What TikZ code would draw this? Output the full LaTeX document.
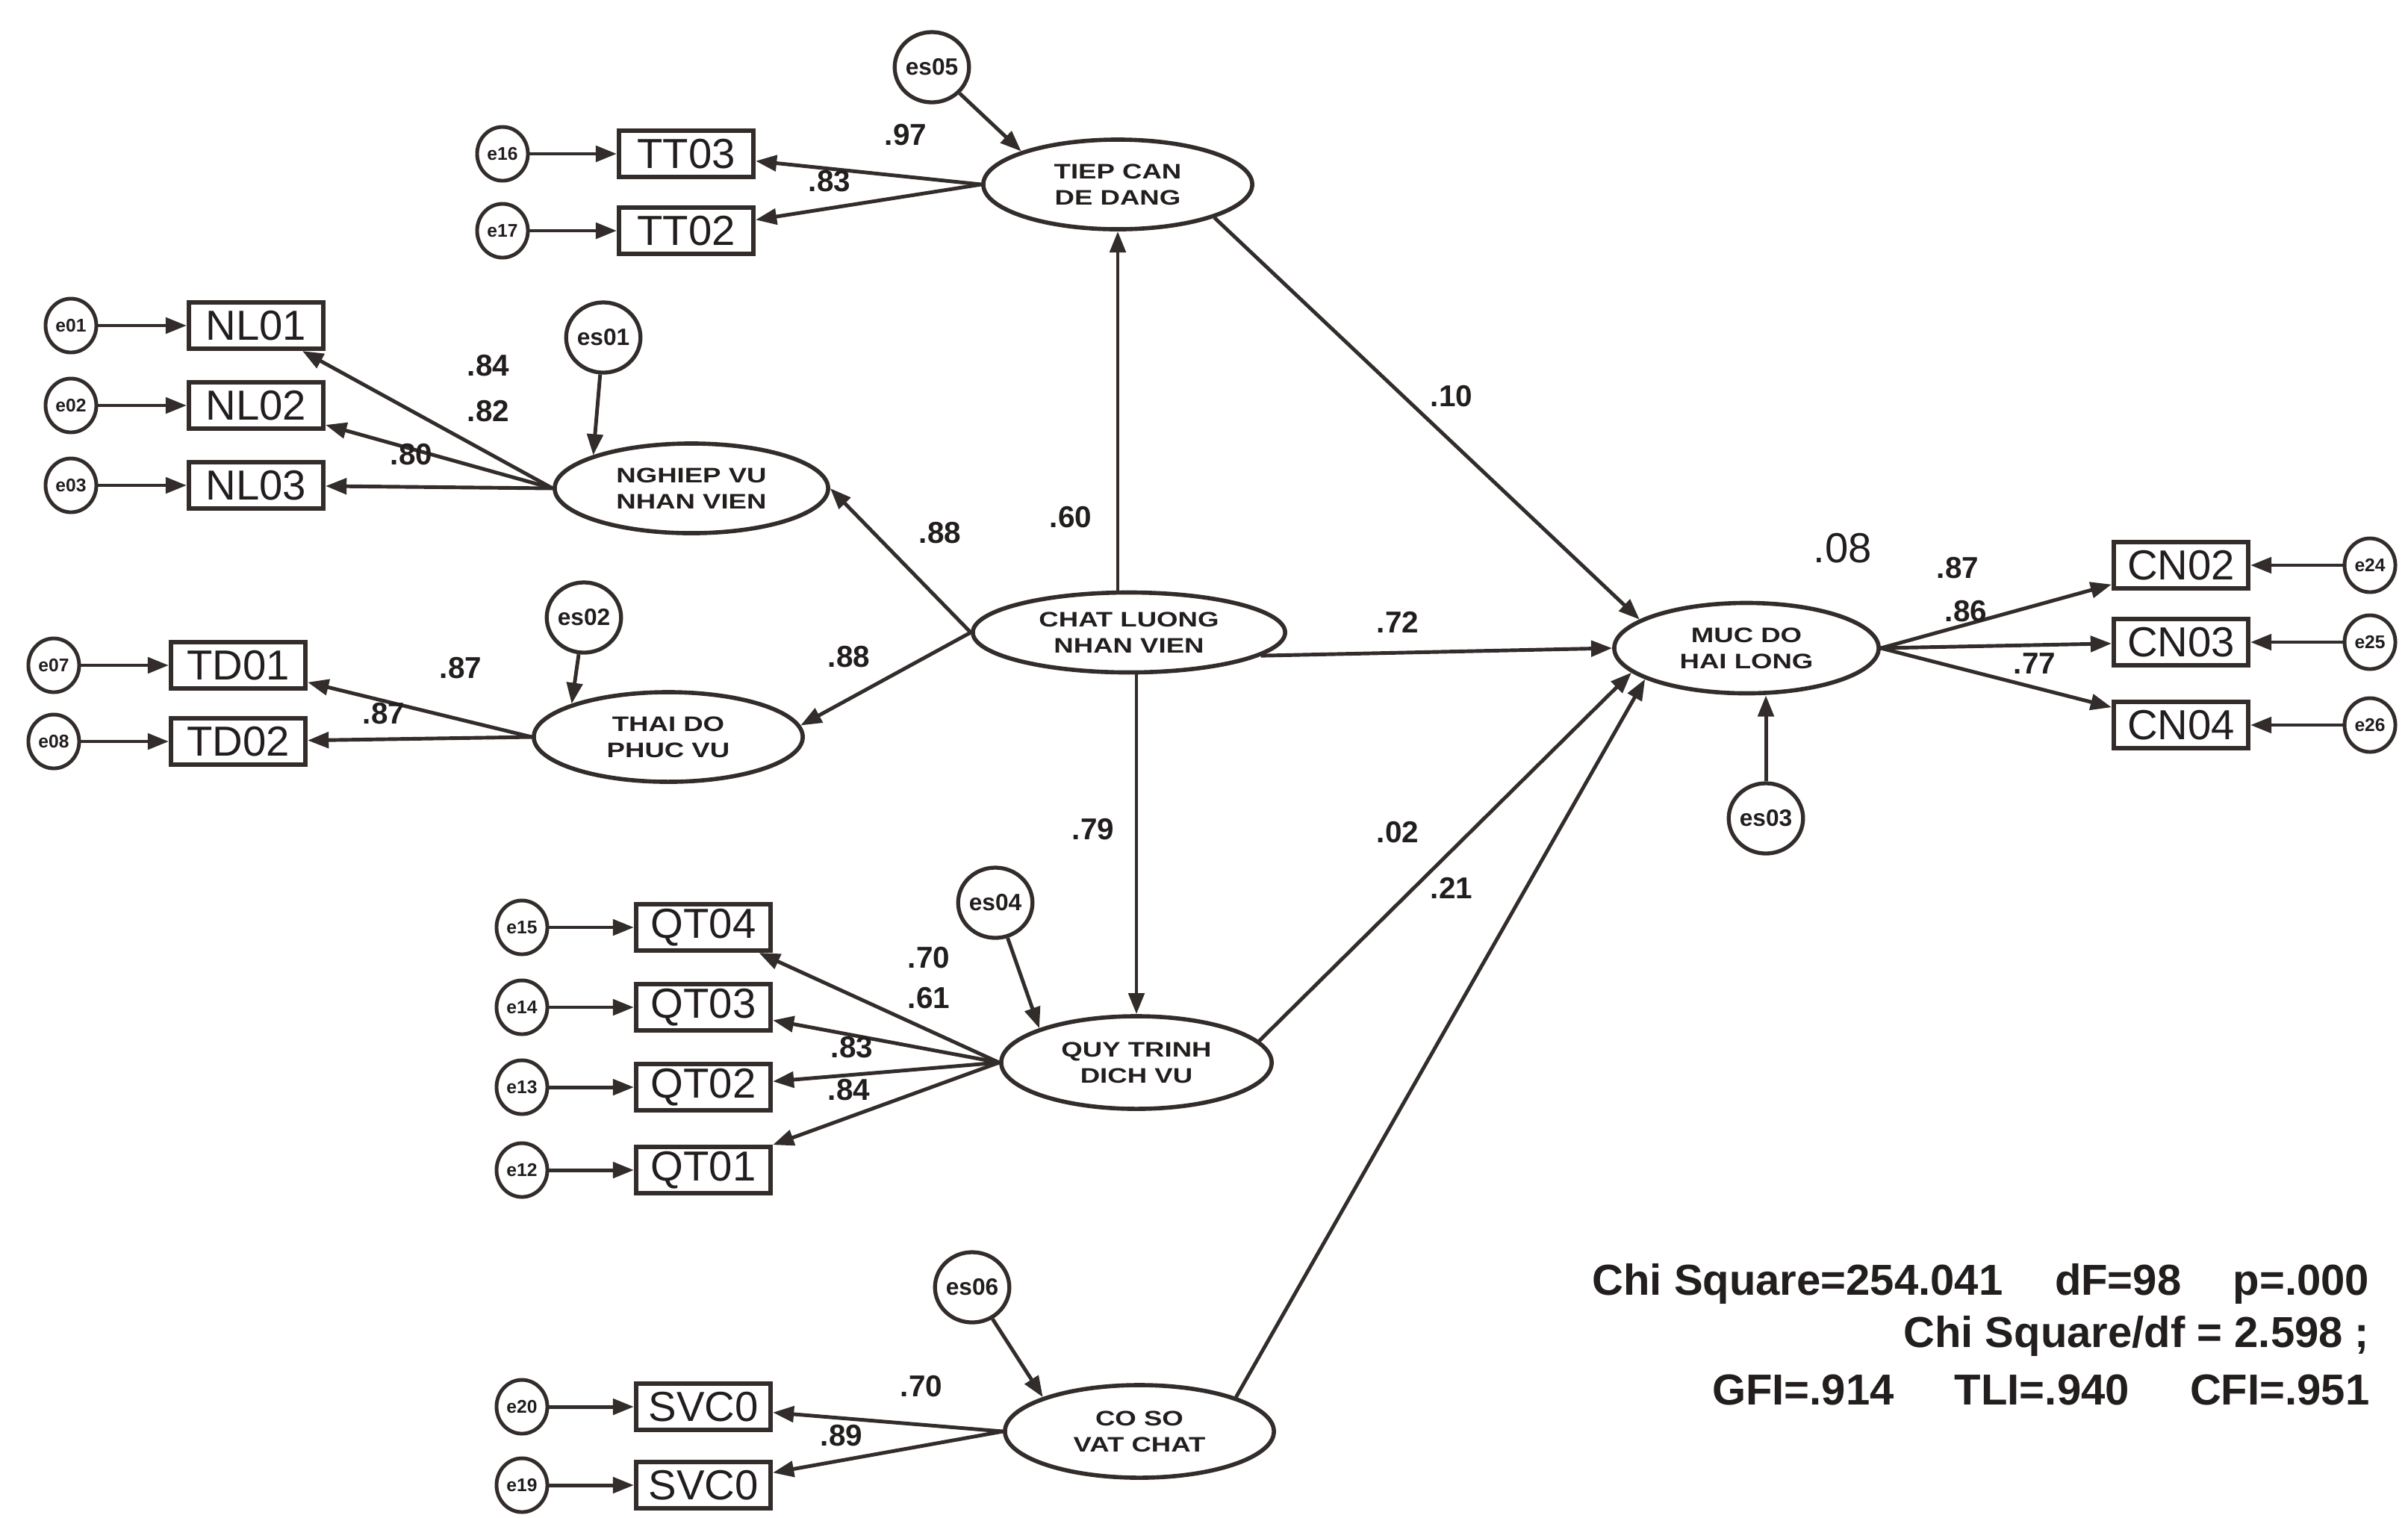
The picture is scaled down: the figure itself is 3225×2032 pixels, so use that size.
\documentclass[tikz,border=0pt]{standalone}
\usepackage{fontspec}
\setmainfont{Liberation Sans}
\newfontfamily\widefont[FakeStretch=1.3]{Liberation Sans}
\usetikzlibrary{arrows.meta,shapes.geometric}
\definecolor{lc}{RGB}{50,44,42}
\definecolor{tc}{RGB}{35,30,30}
\begin{document}
\begin{tikzpicture}[x=0.01cm,y=-0.01cm,
  ln/.style={draw=lc,line width=1.4pt},
  arr/.style={ln,-{Triangle[length=8pt,width=6pt]}},
  obs/.style={draw=lc,line width=1.7pt,rectangle,minimum width=1.8cm,minimum height=0.62cm,inner sep=0pt,text=tc,font=\fontsize{16}{16}\selectfont},
  ec/.style={draw=lc,line width=1.4pt,ellipse,minimum width=0.68cm,minimum height=0.72cm,inner sep=0pt,text=tc,font=\fontsize{7}{7}\selectfont\bfseries},
  esc/.style={draw=lc,line width=1.5pt,ellipse,minimum width=0.98cm,minimum height=0.94cm,inner sep=0pt,text=tc,font=\fontsize{9}{9}\selectfont\bfseries},
  lat/.style={draw=lc,line width=1.6pt,ellipse,minimum width=3.6cm,minimum height=1.2cm,inner sep=0pt,align=center,text=tc,font=\widefont\bfseries\fontsize{8}{10}\selectfont},
  coef/.style={text=tc,inner sep=1pt,font=\fontsize{11.5}{12}\selectfont\bfseries},
  fit/.style={text=tc,anchor=east,inner sep=0pt,font=\fontsize{16.5}{17}\selectfont\bfseries}]
\useasboundingbox (0,0) rectangle (3225,2032);
\fill[white] (0,0) rectangle (3225,2032);

% latent variables
\node[lat] (tiep) at (1497,247) {TIEP CAN\\DE DANG};
\node[lat,minimum width=3.66cm] (nv) at (926,654) {NGHIEP VU\\NHAN VIEN};
\node[lat] (td) at (895,987) {THAI DO\\PHUC VU};
\node[lat,minimum width=4.18cm,minimum height=1.07cm] (cl) at (1512,847) {CHAT LUONG\\NHAN VIEN};
\node[lat,minimum width=3.62cm,minimum height=1.24cm] (qt) at (1522,1423) {QUY TRINH\\DICH VU};
\node[lat,minimum height=1.24cm] (co) at (1526,1917) {CO SO\\VAT CHAT};
\node[lat,minimum width=3.54cm,minimum height=1.21cm] (muc) at (2339,868) {MUC DO\\HAI LONG};

% disturbance terms
\node[esc] (es05) at (1248,90) {es05};
\node[esc] (es01) at (808,452) {es01};
\node[esc] (es02) at (782,827) {es02};
\node[esc] (es04) at (1333,1209) {es04};
\node[esc] (es06) at (1302,1724) {es06};
\node[esc] (es03) at (2365,1096) {es03};

% observed variables
\node[obs] (tt03) at (919,206) {TT03};
\node[obs] (tt02) at (919,309) {TT02};
\node[obs] (nl01) at (343,436) {NL01};
\node[obs] (nl02) at (343,543) {NL02};
\node[obs] (nl03) at (343,650) {NL03};
\node[obs] (td01) at (319,891) {TD01};
\node[obs] (td02) at (319,993) {TD02};
\node[obs] (qt04) at (942,1242) {QT04};
\node[obs] (qt03) at (942,1349) {QT03};
\node[obs] (qt02) at (942,1456) {QT02};
\node[obs] (qt01) at (942,1567) {QT01};
\node[obs] (svc1) at (942,1884) {SVC0};
\node[obs] (svc2) at (942,1989) {SVC0};
\node[obs] (cn02) at (2921,757) {CN02};
\node[obs] (cn03) at (2921,860) {CN03};
\node[obs] (cn04) at (2921,971) {CN04};

% error terms
\node[ec] (e16) at (673,206) {e16};
\node[ec] (e17) at (673,309) {e17};
\node[ec] (e01) at (95,436) {e01};
\node[ec] (e02) at (95,543) {e02};
\node[ec] (e03) at (95,650) {e03};
\node[ec] (e07) at (72,891) {e07};
\node[ec] (e08) at (72,993) {e08};
\node[ec] (e15) at (699,1242) {e15};
\node[ec] (e14) at (699,1349) {e14};
\node[ec] (e13) at (699,1456) {e13};
\node[ec] (e12) at (699,1567) {e12};
\node[ec] (e20) at (699,1884) {e20};
\node[ec] (e19) at (699,1989) {e19};
\node[ec] (e24) at (3174,757) {e24};
\node[ec] (e25) at (3174,860) {e25};
\node[ec] (e26) at (3174,971) {e26};

% error -> indicator
\foreach \e/\b in {e16/tt03,e17/tt02,e01/nl01,e02/nl02,e03/nl03,e07/td01,e08/td02,
  e15/qt04,e14/qt03,e13/qt02,e12/qt01,e20/svc1,e19/svc2,e24/cn02,e25/cn03,e26/cn04}
  \draw[arr] (\e) -- (\b);

% loadings
\draw[arr] (tiep.west) -- (tt03);
\draw[arr] (tiep.west) -- (tt02);
\draw[arr] (nv.west) -- (nl01);
\draw[arr] (nv.west) -- (nl02);
\draw[arr] (nv.west) -- (nl03);
\draw[arr] (td.west) -- (td01);
\draw[arr] (td.west) -- (td02);
\draw[arr] (qt.west) -- (qt04);
\draw[arr] (qt.west) -- (qt03);
\draw[arr] (qt.west) -- (qt02);
\draw[arr] (qt.west) -- (qt01);
\draw[arr] (co.west) -- (svc1);
\draw[arr] (co.west) -- (svc2);
\draw[arr] (muc.east) -- (cn02);
\draw[arr] (muc.east) -- (cn03);
\draw[arr] (muc.east) -- (cn04);

% disturbances
\draw[arr] (es05) -- (tiep.north west);
\draw[arr] (es01) -- (nv.north west);
\draw[arr] (es02) -- (td.north west);
\draw[arr] (es04) -- (qt.north west);
\draw[arr] (es06) -- (co.north west);
\draw[arr] (es03) -- (es03 |- muc.south);

% structural paths
\draw[arr] (tiep.south |- cl.north) -- (tiep.south);
\draw[arr] (cl.west) -- (nv.east);
\draw[arr] (cl.west) -- (td.5);
\draw[arr] (cl.south -| qt.north) -- (qt.north);
\draw[arr] (cl.-10) -- (muc.west);
\draw[arr] (tiep.south east) -- (muc.165);
\draw[arr] (qt.10) -- (muc.192);
\draw[arr] (co.north east) -- (muc.197);

% coefficients
\node[coef] (c1) at (1213,181) {.97};
\node[coef] (c2) at (1111,243) {.83};
\node[coef] (c3) at (654,490) {.84};
\node[coef] (c4) at (654,551) {.82};
\node[coef] (c5) at (551,609) {.80};
\node[coef] (c6) at (617,895) {.87};
\node[coef] (c7) at (514,956) {.87};
\node[coef] (c8) at (1259,714) {.88};
\node[coef] (c9) at (1434,693) {.60};
\node[coef] (c10) at (1137,880) {.88};
\node[coef] (c11) at (1872,833) {.72};
\node[coef] (c12) at (1464,1111) {.79};
\node[coef] (c13) at (1944,531) {.10};
\node[coef] (c14) at (1872,1115) {.02};
\node[coef] (c15) at (1944,1189) {.21};
\node[coef,font=\fontsize{16}{16}\selectfont] (c16) at (2468,734) {.08};
\node[coef] (c17) at (2622,761) {.87};
\node[coef] (c18) at (2633,819) {.86};
\node[coef] (c19) at (2725,889) {.77};
\node[coef] (c20) at (1244,1283) {.70};
\node[coef] (c21) at (1244,1337) {.61};
\node[coef] (c22) at (1141,1403) {.83};
\node[coef] (c23) at (1137,1460) {.84};
\node[coef] (c24) at (1234,1857) {.70};
\node[coef] (c25) at (1127,1923) {.89};

% fit indices
\node[fit] (f1) at (3174,1719) {Chi Square=254.041\hspace{1.2em}dF=98\hspace{1.2em}p=.000};
\node[fit] (f2) at (3174,1789) {Chi Square/df = 2.598 ;};
\node[fit] (f3) at (3174,1861) {GFI=.914\hspace{1.4em}TLI=.940\hspace{1.4em}CFI=.951};
\end{tikzpicture}
\end{document}
